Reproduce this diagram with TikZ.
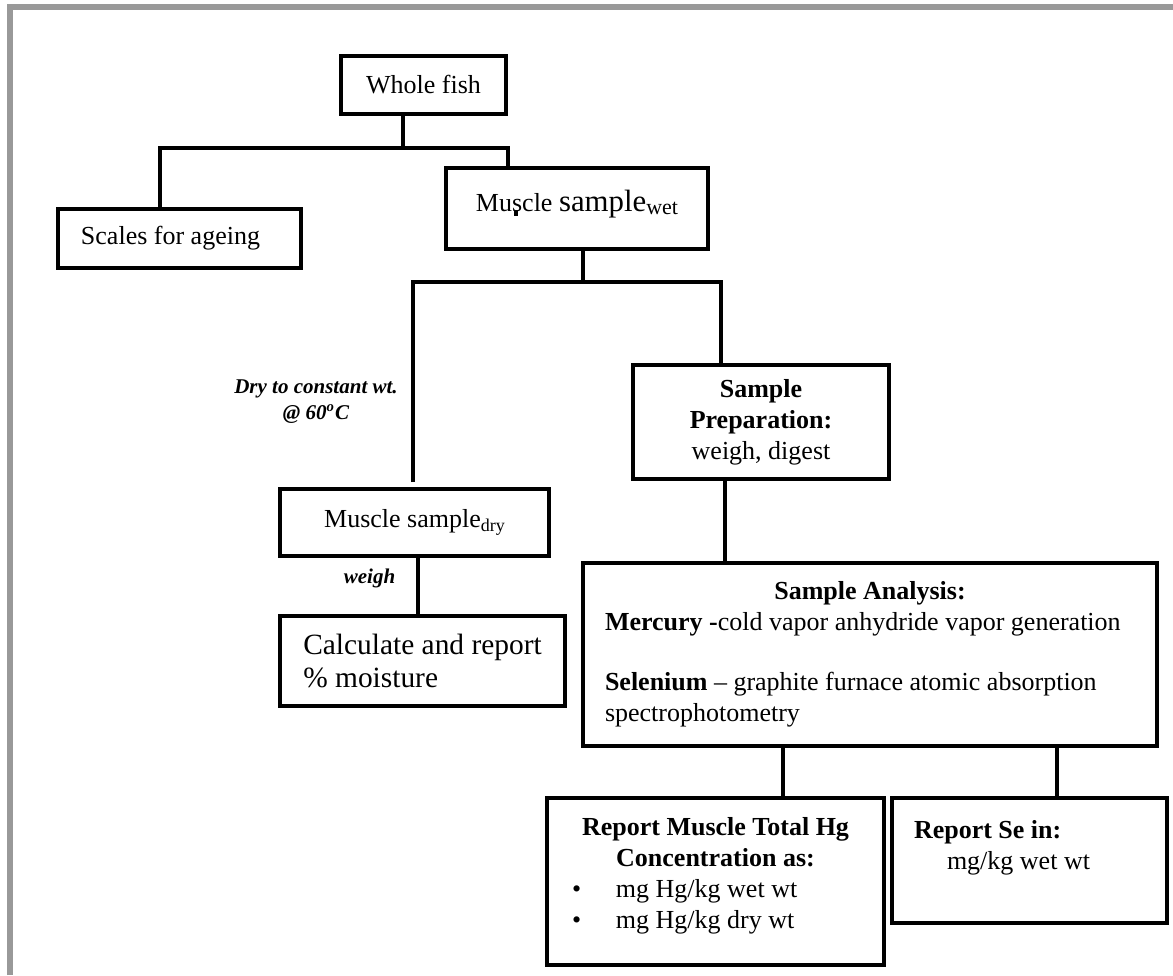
\documentclass[tikz,border=0pt]{standalone}
\usepackage{fontspec}
\setmainfont{Liberation Serif}
\usepackage{tikz}
\definecolor{framegray}{HTML}{999999}

\begin{document}
\begin{tikzpicture}[
  x=0.5pt, y=-0.5pt,
  box/.style={draw, line width=1.6pt, inner sep=0pt, align=center, font=\fontsize{13}{15.5}\selectfont},
  link/.style={line width=1.6pt},
  note/.style={align=center, font=\fontsize{10.5}{13}\selectfont\bfseries\itshape}
]
\useasboundingbox (0,0) rectangle (1173,975);
\draw[framegray, line width=3pt] (9.5,975) -- (9.5,7) -- (1173,7);

\node[box, minimum width=82.5pt, minimum height=29pt] (fish) at (423.5,85) {Whole fish};
\node[box, minimum width=121.5pt, minimum height=29.5pt] (scales) at (179.5,238.5) {Scales for ageing\hspace*{9pt}};
\node[box, minimum width=131pt, minimum height=40.5pt, text depth=8pt] (muswet) at (577,208.5) {Muscle {\fontsize{15.4}{18}\selectfont sample}\raisebox{-1.7pt}{\fontsize{11}{11}\selectfont wet}};
\node[box, minimum width=134.5pt, minimum height=33.5pt] (musdry) at (414.5,522.5) {Muscle sample\raisebox{-1.7pt}{\fontsize{9}{9}\selectfont dry}};
\node[box, minimum width=142.5pt, minimum height=45pt, align=left, font=\fontsize{14.7}{16.5}\selectfont] (calc) at (422.5,661) {Calculate and report\\\% moisture};
\node[box, minimum width=128pt, minimum height=57pt] (prep) at (761,422) {\textbf{Sample}\\\textbf{Preparation:}\\weigh, digest};
\node[box, minimum width=287pt, minimum height=91.5pt, align=left] (anal) at (870,654.5) {\makebox[265pt]{\bfseries Sample Analysis:}\\
  \textbf{Mercury -}cold vapor anhydride vapor generation\\[14.5pt]
  \textbf{Selenium} – graphite furnace atomic absorption\\
  spectrophotometry};
\node[box, minimum width=168.5pt, minimum height=83.5pt, align=left] (hg) at (715.5,881.5) {\makebox[143.5pt]{\bfseries Report Muscle Total Hg}\\
  \makebox[143.5pt]{\bfseries Concentration as:}\\
  \makebox[22pt][l]{\textbullet}mg Hg/kg wet wt\\
  \makebox[22pt][l]{\textbullet}mg Hg/kg dry wt\\[-7pt]
  \mbox{}};
\node[box, minimum width=137.5pt, minimum height=62.5pt, align=left] (se) at (1029.5,860.5) {\makebox[115.5pt][l]{\bfseries Report Se in:}\\
  \hspace*{16.5pt}mg/kg wet wt\\
  \mbox{}};

\node[note] (drylbl) at (316,402) {Dry to constant wt.\\@ 60\textsuperscript{o}C};
\node[note] (weighlbl) at (369.5,578) {weigh};

\coordinate (fishfork) at (403,148);
\coordinate (wetfork) at (583,282);
\coordinate (dryend) at (413,482);
\coordinate (tick) at (516,210);

\draw[link] (fish.south -| fishfork) -- (fishfork);
\draw[link] (scales.north -| 160,0) |- (fishfork) -| (muswet.north -| 508,0);
\draw[link] (muswet.south -| wetfork) -- (wetfork);
\draw[link] (dryend) |- (wetfork) -| (prep.north -| 721,0);
\draw[link] (tick) -- ++(0,6);
\draw[link] (musdry.south -| 418,0) -- (calc.north -| 418,0);
\draw[link] (prep.south -| 725,0) -- (anal.north -| 725,0);
\draw[link] (anal.south -| 783,0) -- (hg.north -| 783,0);
\draw[link] (anal.south -| 1057,0) -- (se.north -| 1057,0);
\end{tikzpicture}
\end{document}
